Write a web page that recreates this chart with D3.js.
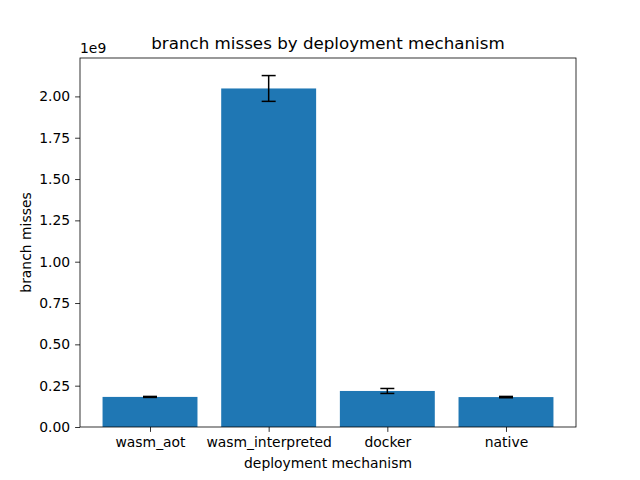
<!DOCTYPE html>
<html>
<head>
<script src="https://cdn.jsdelivr.net/npm/d3@7"></script>
<style>
body { margin: 0; background: #fff; }
text { font-family: "DejaVu Sans", sans-serif; fill: #000; }
</style>
</head>
<body>
<script>
// data (units of 1e9)
var categories = ["wasm_aot", "wasm_interpreted", "docker", "native"];
var values = [0.182, 2.048, 0.218, 0.181];
var errors = [0.003, 0.078, 0.015, 0.004];
var yTicks = [0, 0.25, 0.5, 0.75, 1.0, 1.25, 1.5, 1.75, 2.0];

var width = 640, height = 480;
var margin = {left: 80, right: 64, top: 58, bottom: 53};
var pw = width - margin.left - margin.right;
var ph = height - margin.top - margin.bottom;

var svg = d3.select("body").append("svg")
	.attr("width", width)
	.attr("height", height);

var g = svg.append("g").attr("transform", "translate(" + margin.left + "," + margin.top + ")");

var ymax = d3.max(values.map(function(v, i){ return v + errors[i]; })) * 1.05;
var x = d3.scaleLinear().domain([-0.59, categories.length - 1 + 0.59]).range([0, pw]);
var y = d3.scaleLinear().domain([0, ymax]).range([ph, 0]);

// bars
g.selectAll("rect.bar")
	.data(values)
	.enter()
	.append("rect")
	.attr("class", "bar")
	.attr("x", function(d, i){ return x(i - 0.4); })
	.attr("width", function(){ return x(0.4) - x(-0.4); })
	.attr("y", function(d){ return y(d); })
	.attr("height", function(d){ return y(0) - y(d); })
	.attr("fill", "#1f77b4");

// error bars
var eb = g.selectAll("g.err")
	.data(values)
	.enter()
	.append("g")
	.attr("class", "err")
	.attr("stroke", "#000")
	.attr("stroke-width", 1.5);
eb.append("line")
	.attr("x1", function(d, i){ return x(i); })
	.attr("x2", function(d, i){ return x(i); })
	.attr("y1", function(d, i){ return y(d - errors[i]); })
	.attr("y2", function(d, i){ return y(d + errors[i]); });
eb.append("line")
	.attr("x1", function(d, i){ return x(i) - 7; })
	.attr("x2", function(d, i){ return x(i) + 7; })
	.attr("y1", function(d, i){ return y(d - errors[i]); })
	.attr("y2", function(d, i){ return y(d - errors[i]); });
eb.append("line")
	.attr("x1", function(d, i){ return x(i) - 7; })
	.attr("x2", function(d, i){ return x(i) + 7; })
	.attr("y1", function(d, i){ return y(d + errors[i]); })
	.attr("y2", function(d, i){ return y(d + errors[i]); });

// axes
var xAxis = d3.axisBottom(x)
	.tickValues(d3.range(categories.length))
	.tickFormat(function(d){ return categories[d]; })
	.tickSize(4.9).tickPadding(4.9).tickSizeOuter(0);
var yAxis = d3.axisLeft(y)
	.tickValues(yTicks)
	.tickFormat(d3.format(".2f"))
	.tickSize(4.9).tickPadding(4.9).tickSizeOuter(0);

var gx = g.append("g").attr("transform", "translate(0," + ph + ")").call(xAxis);
var gy = g.append("g").call(yAxis);
[gx, gy].forEach(function(a){
	a.select(".domain").remove();
	a.selectAll("line").attr("stroke", "#000").attr("stroke-width", 0.8);
	a.selectAll("text").style("font-size", "13.9px").style("font-family", "DejaVu Sans");
});

// frame
g.append("rect")
	.attr("width", pw).attr("height", ph)
	.attr("fill", "none").attr("stroke", "#000").attr("stroke-width", 0.8);

// labels
svg.append("text")
	.attr("x", margin.left + pw / 2).attr("y", 49)
	.attr("text-anchor", "middle")
	.style("font-size", "16.7px")
	.text("branch misses by deployment mechanism");
svg.append("text")
	.attr("x", margin.left + pw / 2).attr("y", 468)
	.attr("text-anchor", "middle")
	.style("font-size", "13.9px")
	.text("deployment mechanism");
svg.append("text")
	.attr("transform", "translate(31," + (margin.top + ph / 2) + ") rotate(-90)")
	.attr("text-anchor", "middle")
	.style("font-size", "13.9px")
	.text("branch misses");
svg.append("text")
	.attr("x", margin.left).attr("y", 53)
	.style("font-size", "13.9px")
	.text("1e9");
</script>
</body>
</html>
